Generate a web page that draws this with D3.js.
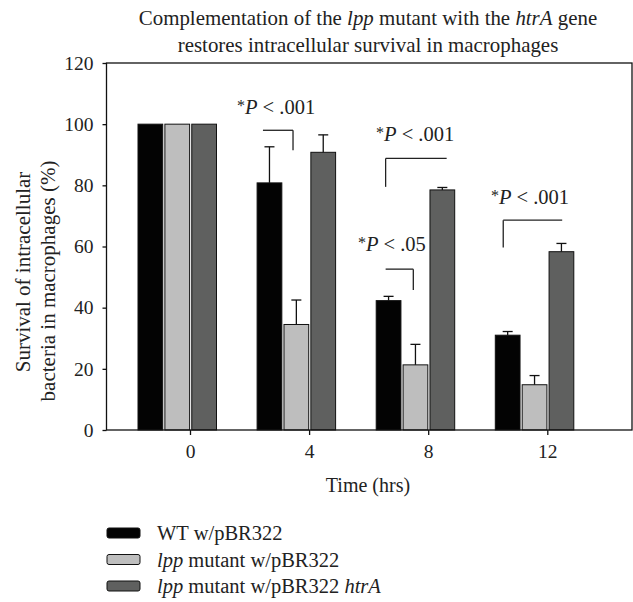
<!DOCTYPE html>
<html>
<head>
<meta charset="utf-8">
<script src="https://cdn.jsdelivr.net/npm/d3@7"></script>
<style>
  body { margin: 0; background: #fff; }
  svg text { font-family: "Liberation Serif", "Times New Roman", serif; fill: #222; }
</style>
</head>
<body>
<div id="chart"></div>
<script>
// data
const times = [0, 4, 8, 12];
const seriesNames = ["WT w/pBR322", "lpp mutant w/pBR322", "lpp mutant w/pBR322 htrA"];
const wtValues = [100, 80.8, 42.3, 31.0];
const wtErrors = [0, 11.8, 1.4, 1.2];
const lppValues = [100, 34.5, 21.3, 14.8];
const lppErrors = [0, 8.0, 6.7, 3.0];
const htrValues = [100, 90.8, 78.5, 58.3];
const htrErrors = [0, 5.7, 0.8, 2.7];
const yTicks = [0, 20, 40, 60, 80, 100, 120];
const pLabels = ["< .001", "< .001", "< .05", "< .001"];
// brackets in data units: hours and percent
const bracketX1 = [2.45, 6.57, 6.57, 10.52];
const bracketX2 = [3.46, 8.62, 7.50, 12.50];
const bracketTop = [98.0, 88.8, 52.6, 68.6];
const bracketEnd = [91.5, 79.5, 45.8, 59.7];
const bracketLeg = ["right", "left", "right", "left"];
const labelX = [2.89, 7.56, 6.78, 11.42];
const labelY = [103.3, 94.4, 58.5, 73.9];

const colors = ["#030303", "#bebebe", "#5f605f"];

const width = 633, height = 602;
const plotLeft = 106.5, plotRight = 632, plotTop = 63, plotBottom = 430;

const svg = d3.select("#chart").append("svg")
    .attr("width", width)
    .attr("height", height);

const x = d3.scaleLinear().domain([0, 12]).range([190, 547.3]);
const y = d3.scaleLinear().domain([0, 120]).range([plotBottom, plotTop]);

// offset of each bar inside a group, relative to the tick
const inner = d3.scaleBand()
    .domain([0, 1, 2])
    .range([-52, 26.5])
    .paddingInner(0.08);

const dataset = times.map((t, i) => ({
    time: t,
    bars: [
        { s: 0, value: wtValues[i], err: wtErrors[i] },
        { s: 1, value: lppValues[i], err: lppErrors[i] },
        { s: 2, value: htrValues[i], err: htrErrors[i] }
    ]
}));

// title
svg.append("text")
    .attr("x", 368).attr("y", 25)
    .attr("text-anchor", "middle")
    .style("font-size", "20.9px")
    .call(t => {
        t.append("tspan").text("Complementation of the ");
        t.append("tspan").style("font-style", "italic").text("lpp");
        t.append("tspan").text(" mutant with the ");
        t.append("tspan").style("font-style", "italic").text("htrA");
        t.append("tspan").text(" gene");
    });
svg.append("text")
    .attr("x", 368).attr("y", 52)
    .attr("text-anchor", "middle")
    .style("font-size", "20.9px")
    .text("restores intracellular survival in macrophages");

// bars
const groups = svg.selectAll(".grp")
    .data(dataset)
    .enter()
    .append("g")
    .attr("transform", d => `translate(${x(d.time)},0)`);

groups.selectAll("rect")
    .data(d => d.bars)
    .enter()
    .append("rect")
    .attr("x", d => inner(d.s))
    .attr("y", d => y(d.value))
    .attr("width", inner.bandwidth())
    .attr("height", d => y(0) - y(d.value))
    .attr("fill", d => colors[d.s])
    .attr("stroke", "#111")
    .attr("stroke-width", 1);

// error bars, upper side only
const errs = groups.selectAll(".err")
    .data(d => d.bars.filter(b => b.err > 0))
    .enter()
    .append("g");
errs.append("line")
    .attr("x1", d => inner(d.s) + inner.bandwidth() / 2)
    .attr("x2", d => inner(d.s) + inner.bandwidth() / 2)
    .attr("y1", d => y(d.value))
    .attr("y2", d => y(d.value + d.err))
    .attr("stroke", "#111").attr("stroke-width", 1.3);
errs.append("line")
    .attr("x1", d => inner(d.s) + inner.bandwidth() / 2 - 5)
    .attr("x2", d => inner(d.s) + inner.bandwidth() / 2 + 5)
    .attr("y1", d => y(d.value + d.err))
    .attr("y2", d => y(d.value + d.err))
    .attr("stroke", "#111").attr("stroke-width", 1.3);

// frame
svg.append("rect")
    .attr("x", plotLeft).attr("y", plotTop)
    .attr("width", plotRight - plotLeft).attr("height", plotBottom - plotTop)
    .attr("fill", "none")
    .attr("stroke", "#111").attr("stroke-width", 1.3);

// axes
const yAxis = svg.append("g")
    .attr("transform", `translate(${plotLeft},0)`)
    .call(d3.axisLeft(y).tickValues(yTicks).tickSize(4).tickPadding(9));
const xAxis = svg.append("g")
    .attr("transform", `translate(0,${plotBottom})`)
    .call(d3.axisBottom(x).tickValues(times).tickSize(5).tickPadding(9));
[yAxis, xAxis].forEach(a => {
    a.select(".domain").remove();
    a.selectAll("line").attr("stroke", "#111").attr("stroke-width", 1.3);
    a.selectAll("text")
        .style("font-size", "19.5px")
        .style("font-family", "'Liberation Serif', serif")
        .attr("fill", "#222");
});

// axis titles
svg.append("text")
    .attr("transform", "translate(30,272) rotate(-90)")
    .attr("text-anchor", "middle")
    .style("font-size", "21px")
    .text("Survival of intracellular");
svg.append("text")
    .attr("transform", "translate(55,281) rotate(-90)")
    .attr("text-anchor", "middle")
    .style("font-size", "21px")
    .text("bacteria in macrophages (%)");
svg.append("text")
    .attr("x", 368).attr("y", 492)
    .attr("text-anchor", "middle")
    .style("font-size", "20px")
    .text("Time (hrs)");

// significance brackets
pLabels.forEach((lab, i) => {
    const legX = bracketLeg[i] === "left" ? x(bracketX1[i]) : x(bracketX2[i]);
    svg.append("line")
        .attr("x1", x(bracketX1[i])).attr("x2", x(bracketX2[i]))
        .attr("y1", y(bracketTop[i])).attr("y2", y(bracketTop[i]))
        .attr("stroke", "#222").attr("stroke-width", 1.3);
    svg.append("line")
        .attr("x1", legX).attr("x2", legX)
        .attr("y1", y(bracketTop[i])).attr("y2", y(bracketEnd[i]))
        .attr("stroke", "#222").attr("stroke-width", 1.3);
    svg.append("text")
        .attr("x", x(labelX[i])).attr("y", y(labelY[i]))
        .attr("text-anchor", "middle")
        .style("font-size", "20.5px")
        .call(t => {
            t.append("tspan").style("font-size", "16px").attr("dy", "-3").text("*");
            t.append("tspan").style("font-style", "italic").attr("dy", "3").text("P");
            t.append("tspan").text(" " + lab);
        });
});

// legend
const legend = svg.append("g").attr("transform", "translate(107,528)");
seriesNames.forEach((name, i) => {
    const row = legend.append("g").attr("transform", `translate(0,${i * 26.5})`);
    row.append("rect")
        .attr("width", 33).attr("height", 10).attr("rx", 2)
        .attr("fill", colors[i])
        .attr("stroke", "#111").attr("stroke-width", 1);
    const t = row.append("text")
        .attr("x", 50).attr("y", 12)
        .style("font-size", "20.5px");
    if (name.startsWith("lpp")) {
        t.append("tspan").style("font-style", "italic").text("lpp");
        const rest = name.slice(3);
        if (rest.endsWith("htrA")) {
            t.append("tspan").text(rest.slice(0, -4));
            t.append("tspan").style("font-style", "italic").text("htrA");
        } else {
            t.append("tspan").text(rest);
        }
    } else {
        t.text(name);
    }
});
</script>
</body>
</html>
